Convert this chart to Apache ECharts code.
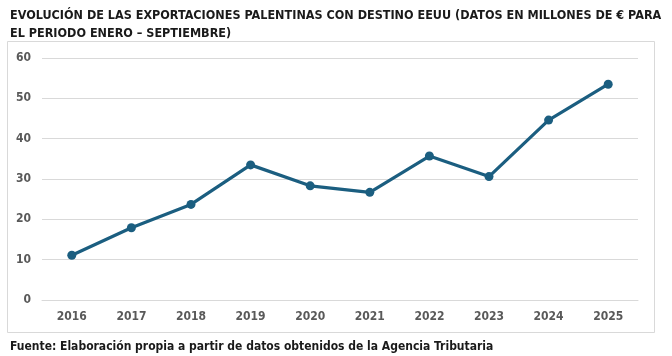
<!DOCTYPE html>
<html><head><meta charset="utf-8">
<script src="https://cdn.jsdelivr.net/npm/echarts@6/dist/echarts.min.js"></script>
<style>html,body{margin:0;padding:0;background:#fff}#c{width:672px;height:356px}</style>
</head><body><div id="c"></div>
<script>
const years = ['2016','2017','2018','2019','2020','2021','2022','2023','2024','2025'];
const exportsUS = [11.1, 17.9, 23.7, 33.5, 28.3, 26.7, 35.7, 30.6, 44.6, 53.5];
const titleText = 'EVOLUCIÓN DE LAS EXPORTACIONES PALENTINAS CON DESTINO EEUU (DATOS EN MILLONES DE € PARA\nEL PERIODO ENERO – SEPTIEMBRE)';
const sourceText = 'Fuente: Elaboración propia a partir de datos obtenidos de la Agencia Tributaria';
const FONT = '"Liberation Sans Narrow", "DejaVu Sans Condensed", sans-serif';

const chart = echarts.init(document.getElementById('c'), null, {renderer: 'canvas'});
chart.setOption({
  animation: false,
  backgroundColor: '#fff',
  title: [{
    text: titleText, left: 5, top: 2,
    textStyle: {fontFamily: FONT, fontSize: 12.5, fontWeight: 'bold', color: '#1a1a1a', lineHeight: 18}
  }, {
    text: sourceText, left: 5, top: 336,
    textStyle: {fontFamily: FONT, fontSize: 12, fontWeight: 'bold', color: '#1a1a1a'}
  }],
  graphic: [{
    type: 'rect', shape: {x: 7.5, y: 41.5, width: 647, height: 291},
    style: {fill: 'none', stroke: '#d9d9d9', lineWidth: 1}, silent: true
  }],
  grid: {left: 42, right: 34, top: 58, bottom: 56, containLabel: false},
  xAxis: {
    type: 'category', data: years, boundaryGap: true,
    axisLine: {show: true, lineStyle: {color: '#d9d9d9'}},
    axisTick: {show: false},
    axisLabel: {margin: 11, color: '#595959', fontFamily: FONT, fontSize: 12, fontWeight: 'bold'}
  },
  yAxis: {
    type: 'value', min: 0, max: 60, interval: 10,
    axisLine: {show: false}, axisTick: {show: false},
    splitLine: {lineStyle: {color: '#d9d9d9', width: 1}},
    axisLabel: {margin: 11, color: '#595959', fontFamily: FONT, fontSize: 12, fontWeight: 'bold'}
  },
  series: [{
    type: 'line', data: exportsUS,
    lineStyle: {color: '#1b5e80', width: 3.2},
    itemStyle: {color: '#1b5e80'},
    symbol: 'circle', symbolSize: 9, showSymbol: true
  }]
});
</script></body></html>
